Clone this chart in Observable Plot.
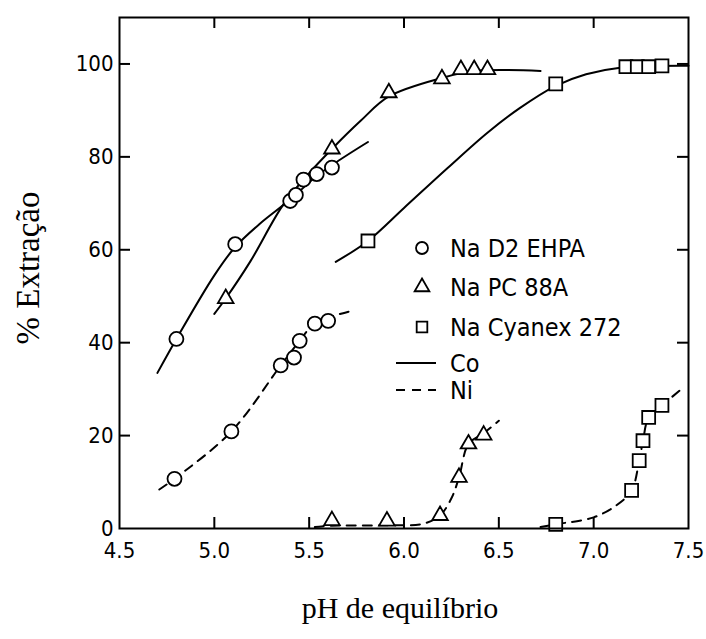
<!DOCTYPE html>
<html>
<head>
<meta charset="utf-8">
<script src="https://cdn.jsdelivr.net/npm/d3@7"></script>
<script src="https://cdn.jsdelivr.net/npm/@observablehq/plot@0.6"></script>
<style>
  body { margin: 0; background: #fff; }
  #wrap { position: relative; width: 706px; height: 639px; overflow: hidden; background: #fff; }
  #wrap > svg { position: absolute; left: 0; top: 0; }
  .ytitle { position: absolute; left: 28px; top: 268px; transform: translate(-50%, -50%) rotate(-90deg);
            font-family: "Liberation Serif", "Times New Roman", serif; font-size: 33px; white-space: nowrap; color: #000; }
  .xtitle { position: absolute; left: 400px; top: 608px; transform: translate(-50%, -50%);
            font-family: "Liberation Serif", "Times New Roman", serif; font-size: 30px; white-space: nowrap; color: #000; }
  #wrap > svg#legend { left: 390px; top: 232px; }
</style>
</head>
<body>
<div id="wrap">
  <div class="ytitle">% Extração</div>
  <div class="xtitle">pH de equilíbrio</div>
</div>
<script>
// ---- Data (pH, % extraction) ----
// Co (solid) — measured points
const d2ehpaCoPts = [[4.80,40.8],[5.11,61.2],[5.40,70.5],[5.43,71.8],[5.47,75.1],[5.54,76.3],[5.62,77.7]];
const pc88aCoPts  = [[5.06,49.5],[5.62,81.7],[5.92,93.8],[6.20,96.8],[6.30,98.8],[6.37,98.8],[6.44,98.8]];
const cyanexCoPts = [[5.81,61.9],[6.80,95.7],[7.17,99.4],[7.23,99.4],[7.29,99.4],[7.36,99.6]];
// Co (solid) — fitted curves
const d2ehpaCoCurve = [[4.70,33.5],[4.80,40.8],[5.00,54.5],[5.11,60.6],[5.24,65.6],[5.40,70.8],[5.55,76.2],[5.81,83.2]];
const pc88aCoCurve  = [[5.00,46.2],[5.06,49.5],[5.19,57.5],[5.36,69.5],[5.50,76.5],[5.62,81.7],[5.77,87.7],[5.92,93.0],[6.20,97.0],[6.37,98.5],[6.72,98.5]];
const cyanexCoCurve = [[5.64,57.4],[5.81,61.9],[6.00,69.0],[6.23,77.6],[6.44,85.2],[6.61,90.5],[6.80,95.3],[6.96,97.8],[7.14,99.2],[7.50,99.6]];
// Ni (dashed) — measured points
const d2ehpaNiPts = [[4.79,10.7],[5.09,20.9],[5.35,35.1],[5.42,36.8],[5.45,40.4],[5.53,44.1],[5.60,44.7]];
const pc88aNiPts  = [[5.62,1.7],[5.91,1.6],[6.19,2.8],[6.29,11.0],[6.34,18.2],[6.42,20.1]];
const cyanexNiPts = [[6.80,0.9],[7.20,8.2],[7.24,14.6],[7.26,18.9],[7.29,23.9],[7.36,26.5]];
// Ni (dashed) — fitted curves
const d2ehpaNiCurve = [[4.71,8.4],[4.79,10.7],[5.09,20.9],[5.35,35.1],[5.45,40.4],[5.53,44.1],[5.73,46.9]];
const pc88aNiCurve  = [[5.53,0.3],[5.62,0.6],[5.91,0.7],[6.10,1.0],[6.19,2.8],[6.25,6.5],[6.29,11.0],[6.34,18.2],[6.42,20.5],[6.50,23.2]];
const cyanexNiCurve = [[6.72,0.3],[6.80,0.9],[7.00,2.4],[7.12,5.0],[7.20,8.2],[7.24,14.6],[7.26,18.9],[7.29,23.9],[7.36,26.5],[7.46,29.9]];

// Axes
const xTicks = [4.5,5.0,5.5,6.0,6.5,7.0,7.5];
const yTicks = [0,20,40,60,80,100];
const xInnerTicks = [5.0,5.5,6.0,6.5,7.0];
const yInnerTicks = [20,40,60,80,100];

// Legend
const legendSymbols = [["circle","Na D2 EHPA"],["triangle","Na PC 88A"],["square","Na Cyanex 272"]];
const legendLines = [[null,"Co"],["9,7","Ni"]];

const W = 706, H = 639, ML = 119, MR = 18, MT = 17, MB = 111, TICK = 11;
const XD = [4.5, 7.5], YD = [0, 110];
// tick length expressed in data units of each scale
const tickDY = TICK * (YD[1] - YD[0]) / (H - MT - MB);
const tickDX = TICK * (XD[1] - XD[0]) / (W - ML - MR);

const tickFont = "'DejaVu Sans Condensed', 'DejaVu Sans', sans-serif";
const px = d => d[0], py = d => d[1];
const lineOpts = {x: px, y: py, curve: "catmull-rom", strokeWidth: 2, stroke: "black"};
const dashOpts = {...lineOpts, strokeDasharray: "9,7"};
const dotOpts = {x: px, y: py, fill: "white", stroke: "black", strokeWidth: 1.8};
const ruleOpts = {stroke: "black", strokeWidth: 2};

const chart = Plot.plot({
  width: W, height: H,
  marginLeft: ML, marginRight: MR, marginTop: MT, marginBottom: MB,
  style: {background: "white", color: "black"},
  x: {domain: XD},
  y: {domain: YD},
  marks: [
    Plot.line(d2ehpaCoCurve, lineOpts),
    Plot.line(pc88aCoCurve, lineOpts),
    Plot.line(cyanexCoCurve, lineOpts),
    Plot.line(d2ehpaNiCurve, dashOpts),
    Plot.line(pc88aNiCurve, dashOpts),
    Plot.line(cyanexNiCurve, dashOpts),
    Plot.dot(d2ehpaCoPts, {...dotOpts, symbol: "circle", r: 7}),
    Plot.dot(d2ehpaNiPts, {...dotOpts, symbol: "circle", r: 7}),
    Plot.dot(pc88aCoPts, {...dotOpts, symbol: "triangle", r: 5.8}),
    Plot.dot(pc88aNiPts, {...dotOpts, symbol: "triangle", r: 5.8}),
    Plot.dot(cyanexCoPts, {...dotOpts, symbol: "square", r: 7.3}),
    Plot.dot(cyanexNiPts, {...dotOpts, symbol: "square", r: 7.3}),
    // inward ticks on the four sides
    Plot.ruleX(xInnerTicks, {x: d => d, y1: YD[0], y2: YD[0] + tickDY, ...ruleOpts}),
    Plot.ruleX(xInnerTicks, {x: d => d, y1: YD[1] - tickDY, y2: YD[1], ...ruleOpts}),
    Plot.ruleY(yInnerTicks, {y: d => d, x1: XD[0], x2: XD[0] + tickDX, ...ruleOpts}),
    Plot.ruleY(yInnerTicks, {y: d => d, x1: XD[1] - tickDX, x2: XD[1], ...ruleOpts}),
    Plot.frame({strokeWidth: 2, stroke: "black"}),
    Plot.axisX({ticks: xTicks, anchor: "bottom", tickSize: 0, tickPadding: 14, tickFormat: d3.format(".1f"), label: null,
                fontSize: 22, fontFamily: tickFont}),
    Plot.axisY({ticks: yTicks, anchor: "left", tickSize: 0, tickPadding: 6, label: null, fontSize: 22, fontFamily: tickFont})
  ]
});
const wrap = document.getElementById("wrap");
wrap.insertBefore(chart, wrap.firstChild);

// Legend overlay
const lg = d3.select(wrap).append("svg").attr("id", "legend").attr("width", 280).attr("height", 180);
const symMap = {circle: d3.symbolCircle, triangle: d3.symbolTriangle, square: d3.symbolSquare};
const symSize = {circle: Math.PI * 36, triangle: Math.PI * 30, square: Math.PI * 36};
legendSymbols.forEach(([s, label], i) => {
  const ly = [16, 55, 95][i];
  lg.append("path").attr("d", d3.symbol(symMap[s], symSize[s])())
    .attr("transform", `translate(32,${ly})`).attr("fill", "white").attr("stroke", "black").attr("stroke-width", 1.8);
  lg.append("text").attr("x", 60).attr("y", ly).attr("dominant-baseline", "central")
    .attr("font-family", tickFont).attr("font-size", 25).text(label);
});
legendLines.forEach(([dash, label], i) => {
  const ly = [131, 158][i];
  lg.append("line").attr("x1", 6).attr("x2", 46).attr("y1", ly).attr("y2", ly)
    .attr("stroke", "black").attr("stroke-width", 2).attr("stroke-dasharray", dash);
  lg.append("text").attr("x", 60).attr("y", ly).attr("dominant-baseline", "central")
    .attr("font-family", tickFont).attr("font-size", 25).text(label);
});
</script>
</body>
</html>
